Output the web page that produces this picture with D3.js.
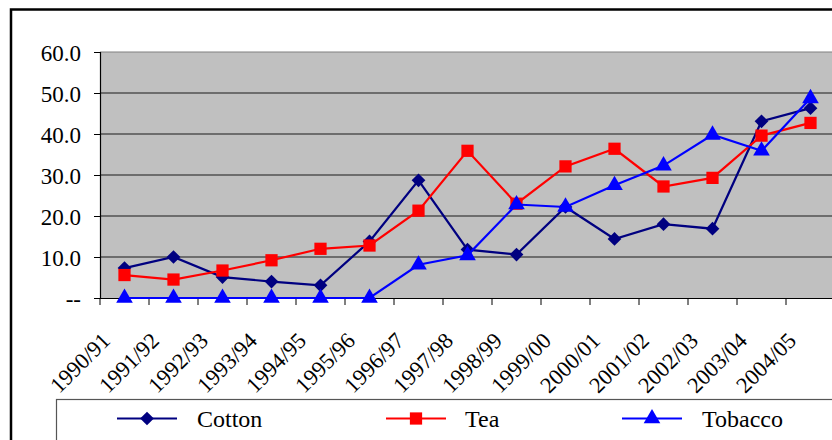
<!DOCTYPE html>
<html>
<head>
<meta charset="utf-8">
<script src="https://cdn.jsdelivr.net/npm/d3@7"></script>
</head>
<body style="margin:0">
<div id="chart"></div>
<script>
const categories = ["1990/91","1991/92","1992/93","1993/94","1994/95","1995/96","1996/97","1997/98","1998/99","1999/00","2000/01","2001/02","2002/03","2003/04","2004/05"];
const cotton  = [7.3, 10.0, 5.1, 4.0, 3.1, 13.8, 28.7, 11.8, 10.6, 22.2, 14.4, 18.0, 16.9, 43.1, 46.3];
const tea     = [5.6, 4.5, 6.7, 9.2, 12.0, 12.8, 21.3, 35.9, 23.0, 32.1, 36.4, 27.2, 29.3, 39.6, 42.7];
const tobacco = [0, 0, 0, 0, 0, 0, 8.1, 10.4, 22.8, 22.2, 27.5, 32.3, 39.8, 35.9, 48.7];
const yTicks  = [0, 10, 20, 30, 40, 50, 60];
const seriesNames = ["Cotton", "Tea", "Tobacco"];

const series = [
  { name: seriesNames[0], values: cotton,  color: "#000080", symbol: d3.symbolDiamond2, size: 120 },
  { name: seriesNames[1], values: tea,     color: "#FF0000", symbol: d3.symbolSquare, size: 150 },
  { name: seriesNames[2], values: tobacco, color: "#0000FF", symbol: d3.symbolTriangle, size: 120 }
];

const W = 832, H = 440;
const svg = d3.select("#chart").append("svg").attr("width", W).attr("height", H)
  .attr("font-family", "Liberation Serif")
  .style("font-family", "'Liberation Serif'");

function styleText(sel, size) {
  sel.attr("fill", null)
    .style("font-family", "'Liberation Serif'")
    .style("font-size", size + "px");
}

// outer frame
svg.append("rect").attr("x", 11).attr("y", 9.5).attr("width", 900).attr("height", 600)
  .attr("fill", "#fff").attr("stroke", "#000").attr("stroke-width", 2.5);

const x = d3.scaleBand().domain(categories).range([100, 835]).padding(0);
const y = d3.scaleLinear().domain([0, 60]).range([298, 52]);
const cx = c => x(c) + x.bandwidth() / 2;

// plot area
svg.append("rect").attr("x", 100).attr("y", y(60)).attr("width", 735).attr("height", y(0) - y(60))
  .attr("fill", "#C0C0C0");
svg.append("line").attr("x1", 100).attr("x2", 835).attr("y1", y(60)).attr("y2", y(60))
  .attr("stroke", "#808080").attr("stroke-width", 1.2);

// gridlines
svg.append("g").selectAll("line").data(yTicks.filter(t => t > 0 && t < 60)).join("line")
  .attr("x1", 100).attr("x2", 835)
  .attr("y1", d => y(d)).attr("y2", d => y(d))
  .attr("stroke", "#1a1a1a").attr("stroke-width", 1);

// y axis
const yAxis = svg.append("g").attr("transform", "translate(100,0)")
  .call(d3.axisLeft(y).tickValues(yTicks).tickSize(6).tickPadding(13)
    .tickFormat(d => d === 0 ? "--" : d.toFixed(1)));
yAxis.attr("font-family", null).attr("font-size", null).attr("fill", null);
yAxis.select(".domain").attr("fill", "none").attr("stroke", "#000").attr("stroke-width", 1.2);
yAxis.selectAll(".tick line").attr("stroke", "#000");
yAxis.selectAll("text").call(styleText, 23).attr("dy", null).attr("y", 8);

// x axis
const xAxis = svg.append("g").attr("transform", `translate(0,${y(0)})`)
  .call(d3.axisBottom(x).tickSize(0));
xAxis.attr("font-family", null).attr("font-size", null).attr("fill", null);
xAxis.select(".domain").attr("fill", "none").attr("stroke", "#000").attr("stroke-width", 1.2);
xAxis.selectAll("text").call(styleText, 22.5)
  .attr("text-anchor", "end").attr("x", 0).attr("y", 0).attr("dy", null)
  .attr("transform", "translate(-13,44) rotate(-45)");
// boundary ticks
svg.append("g").selectAll("line").data(categories.map(c => x(c)).concat([x.range()[1]])).join("line")
  .attr("x1", d => d).attr("x2", d => d).attr("y1", y(0)).attr("y2", y(0) + 7)
  .attr("stroke", "#000").attr("stroke-width", 1);

// series
const line = d3.line().x((d, i) => cx(categories[i])).y(d => y(d));
series.forEach(s => {
  const g = svg.append("g");
  g.append("path").attr("d", line(s.values)).attr("fill", "none")
    .attr("stroke", s.color).attr("stroke-width", 2.2);
  g.selectAll("path.m").data(s.values).join("path").attr("class", "m")
    .attr("d", d3.symbol().type(s.symbol).size(s.size))
    .attr("transform", (d, i) => `translate(${cx(categories[i])},${y(d)})`)
    .attr("fill", s.color);
});

// legend
svg.append("rect").attr("x", 56.5).attr("y", 399.5).attr("width", 900).attr("height", 100)
  .attr("fill", "#fff").attr("stroke", "#555").attr("stroke-width", 1.2);
const legendX = [117, 386, 622];
const textX = [197, 465, 702];
series.forEach((s, i) => {
  svg.append("line").attr("x1", legendX[i]).attr("x2", legendX[i] + 60).attr("y1", 418.5).attr("y2", 418.5)
    .attr("stroke", s.color).attr("stroke-width", 2.2);
  svg.append("path").attr("d", d3.symbol().type(s.symbol).size(s.size)())
    .attr("transform", `translate(${legendX[i] + 30},418.5)`).attr("fill", s.color);
  svg.append("text").attr("x", textX[i]).attr("y", 427)
    .call(styleText, 24).text(s.name);
});
</script>
</body>
</html>
